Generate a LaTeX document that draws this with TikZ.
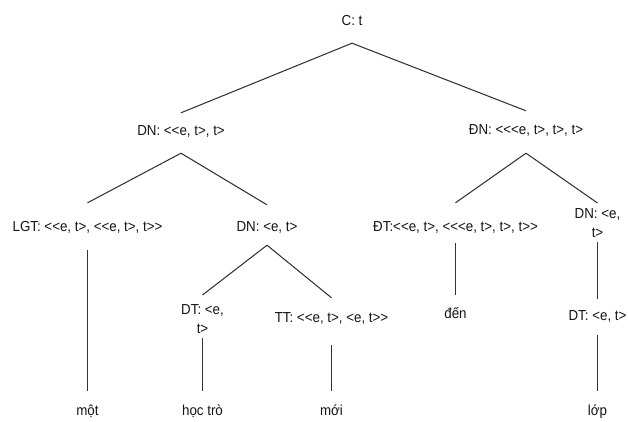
\documentclass[tikz,border=0pt]{standalone}
\usepackage{fontspec}
\setmainfont{Liberation Sans}[FakeStretch=0.92]
\newfontfamily\treefont{Liberation Sans}[FakeStretch=0.92]
\definecolor{inkc}{HTML}{151515}
\definecolor{edgec}{HTML}{333333}
\begin{document}
\begin{tikzpicture}[x=1pt,y=-1pt,
  txt/.style={font=\treefont\fontsize{14.5}{19}\selectfont, text=inkc, inner xsep=0pt},
  lbl/.style={txt, inner ysep=13.5pt, text height=10pt, text depth=3pt},
  lbltwo/.style={txt, inner ysep=0pt, align=center},
  edge/.style={draw=edgec, line width=1.05pt}]
\useasboundingbox[fill=white] (0,0) rectangle (628,422);

% root
\node[lbl] (C) at (352,22) {C: t};
% noun phrase and verb phrase
\node[lbl] (DNa) at (181,132) {DN: <{}<e, t>, t>};
\node[lbl] (DNb) at (526,131) {ĐN: <{}<{}<e, t>, t>, t>};
% third level
\node[lbl] (LGT) at (87.5,228) {LGT: <{}<e, t>, <{}<e, t>, t>{}>};
\node[lbl] (DNc) at (267,228) {DN: <e, t>};
\node[lbl] (DTa) at (455.5,228) {ĐT:<{}<e, t>, <{}<{}<e, t>, t>, t>{}>};
\node[lbltwo, anchor=north] (DNd) at (597.5,208) {DN: <e,\\t>};
% fourth level
\node[lbltwo, anchor=north] (DTb) at (202.5,304) {DT: <e,\\t>};
\node[lbl] (TT) at (331.5,319) {TT: <{}<e, t>, <e, t>{}>};
\node[lbl] (den) at (455.5,315) {đến};
\node[lbl] (DTc) at (597.5,317) {DT: <e, t>};
% words
\node[lbl] (mot) at (87.5,412) {một};
\node[lbl] (hoctro) at (202.5,412) {học trò};
\node[lbl] (moi) at (331.5,412) {mới};
\node[lbl] (lop) at (597.5,412) {lớp};

% branching edges
\draw[edge] ([yshift=-1pt]C.south) -- ([yshift=-1pt]DNa.north);
\draw[edge] ([yshift=-1pt]C.south) -- (DNb.north);
\draw[edge] ([yshift=-1pt]DNa.south) -- ([yshift=5pt]LGT.north);
\draw[edge] ([yshift=-1pt]DNa.south) -- ([yshift=3pt]DNc.north);
\draw[edge] ([yshift=-2pt]DNb.south) -- ([yshift=5pt]DTa.north);
\draw[edge] ([yshift=-2pt]DNb.south) -- ([yshift=5pt]DNd.north);
\draw[edge] ([yshift=3pt]DNc.south) -- ([yshift=9pt]DTb.north);
\draw[edge] ([yshift=3pt]DNc.south) -- ([yshift=1pt]TT.north);
% unary edges
\draw[edge, shorten <=2pt, shorten >=1pt] (LGT.south) -- (mot.north);
\draw[edge, shorten <=4.5pt, shorten >=1pt] (DTb.south) -- (hoctro.north);
\draw[edge, shorten <=6pt, shorten >=1pt] (TT.south) -- (moi.north);
\draw[edge, shorten <=-5pt, shorten >=0pt] (DTa.south) -- (den.north);
\draw[edge, shorten <=5pt, shorten >=-2pt] (DNd.south) -- (DTc.north);
\draw[edge, shorten <=-2pt, shorten >=1pt] (DTc.south) -- (lop.north);
\end{tikzpicture}
\end{document}
